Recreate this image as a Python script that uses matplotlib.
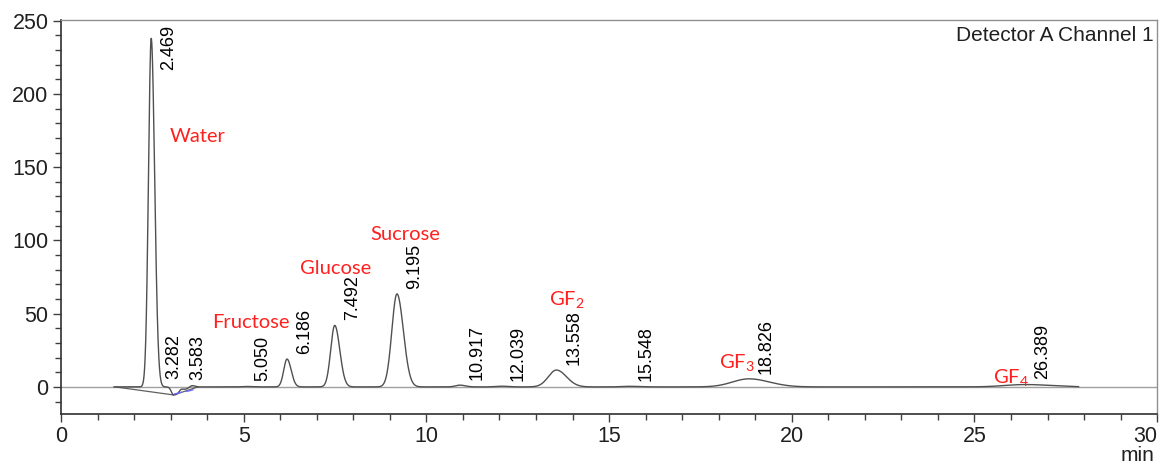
import numpy as np
import matplotlib.pyplot as plt

# peak table: retention time (min), height (mV), width (sigma, min)
peak_rt = [2.469, 3.282, 3.583, 5.050, 6.186, 7.492, 9.195,
           10.917, 12.039, 13.558, 15.548, 18.826, 26.389]
peak_height = [238.0, 1.8, 1.2, 0.3, 19.0, 42.0, 63.5,
               1.2, 0.5, 11.5, 0.4, 5.5, 1.6]
peak_sigma = [0.075, 0.05, 0.06, 0.10, 0.09, 0.11, 0.14,
              0.12, 0.15, 0.22, 0.20, 0.45, 0.55]

# negative system dip right after the solvent peak
dip_rt = 3.08
dip_depth = -5.5
dip_sigma = 0.22

# integration baseline drawn under the solvent peak
base_x = [1.48, 3.08, 3.45, 3.75]
base_y = [0.0, -5.5, -2.5, 0.0]

compounds = ["Water", "Fructose", "Glucose", "Sucrose", "GF", "GF", "GF"]
compound_sub = ["", "", "", "", "2", "3", "4"]
compound_x = [2.98, 4.13, 6.54, 8.46, 13.36, 18.0, 25.5]
compound_y = [171, 44, 81, 104, 59, 16, 6]

t = np.linspace(1.45, 27.85, 6000)
signal = np.zeros_like(t)
for rt, h, s in zip(peak_rt, peak_height, peak_sigma):
    # slight tailing on the right side of each peak
    sig = np.where(t < rt, s, s * 1.25)
    signal += h * np.exp(-0.5 * ((t - rt) / sig) ** 2)
dsig = np.where(t < dip_rt, 0.06, dip_sigma)
signal += dip_depth * np.exp(-0.5 * ((t - dip_rt) / dsig) ** 2)

plt.rcParams["font.family"] = ["Liberation Sans", "DejaVu Sans"]

fig = plt.figure(figsize=(11.62, 4.65), dpi=100)
ax = fig.add_axes([0.0525, 0.1097, 0.9433, 0.8473])

ax.axhline(0, color="#a0a0a0", lw=1.0, zorder=1)
ax.plot(base_x, base_y, color="#606060", lw=0.9, zorder=2)
ax.plot(t, signal, color="#505050", lw=1.0, zorder=3)

# small blue start/end markers of the tiny peaks
for x0, y0 in [(3.2, -4.3), (3.52, -2.6)]:
    xs = np.linspace(-0.09, 0.09, 20)
    ax.plot(x0 + xs, y0 + 12 * xs ** 2 + xs * 6, color="#6a6aff", lw=1.0, zorder=4)

# retention time labels
label_dx = {3.282: -0.18, 3.583: 0.17}
for rt, h in zip(peak_rt, peak_height):
    x = rt + label_dx.get(rt, 0.48)
    txt = f"{rt:.3f}"
    if h > 200:
        ax.text(x, 247, txt, rotation=90, ha="center", va="top",
                fontsize=13, color="black")
    else:
        ax.text(x, max(h, 0) + 3.5, txt, rotation=90, ha="center",
                va="bottom", fontsize=13, color="black")

for name, sub, x, y in zip(compounds, compound_sub, compound_x, compound_y):
    label = name if not sub else name + r"$_{\mathregular{" + sub + "}}$"
    ax.text(x, y, label, color="#ff2020", fontsize=14.5, va="center",
            ha="left", family=["Lato", "DejaVu Sans"])

ax.text(0.997, 0.985, "Detector A Channel 1", transform=ax.transAxes,
        ha="right", va="top", fontsize=15, color="#202020")

ax.set_xlim(0, 30)
ax.set_ylim(-18.5, 250.5)
ax.set_xticks(np.arange(0, 31, 5))
ax.set_xticks(np.arange(0, 31, 1), minor=True)
ax.set_yticks(np.arange(0, 251, 50))
ax.set_yticks(np.arange(-10, 251, 10), minor=True)

ax.tick_params(which="major", length=6, width=1, color="#404040",
               labelsize=15.5, labelcolor="#202020")
ax.tick_params(which="minor", length=4, width=1, color="#404040")
ax.tick_params(axis="x", pad=3)
ax.tick_params(axis="y", pad=3)
# keep the last x label inside the figure
ax.get_xticklabels()[-1].set_horizontalalignment("right")

for side in ["left", "bottom"]:
    ax.spines[side].set_color("#303030")
    ax.spines[side].set_linewidth(1.2)
for side in ["top", "right"]:
    ax.spines[side].set_color("#909090")
    ax.spines[side].set_linewidth(1.0)

fig.text(0.9785, 0.008, "min", ha="center", va="baseline", fontsize=15,
         color="#202020")

fig.savefig("out.png", dpi=100)
